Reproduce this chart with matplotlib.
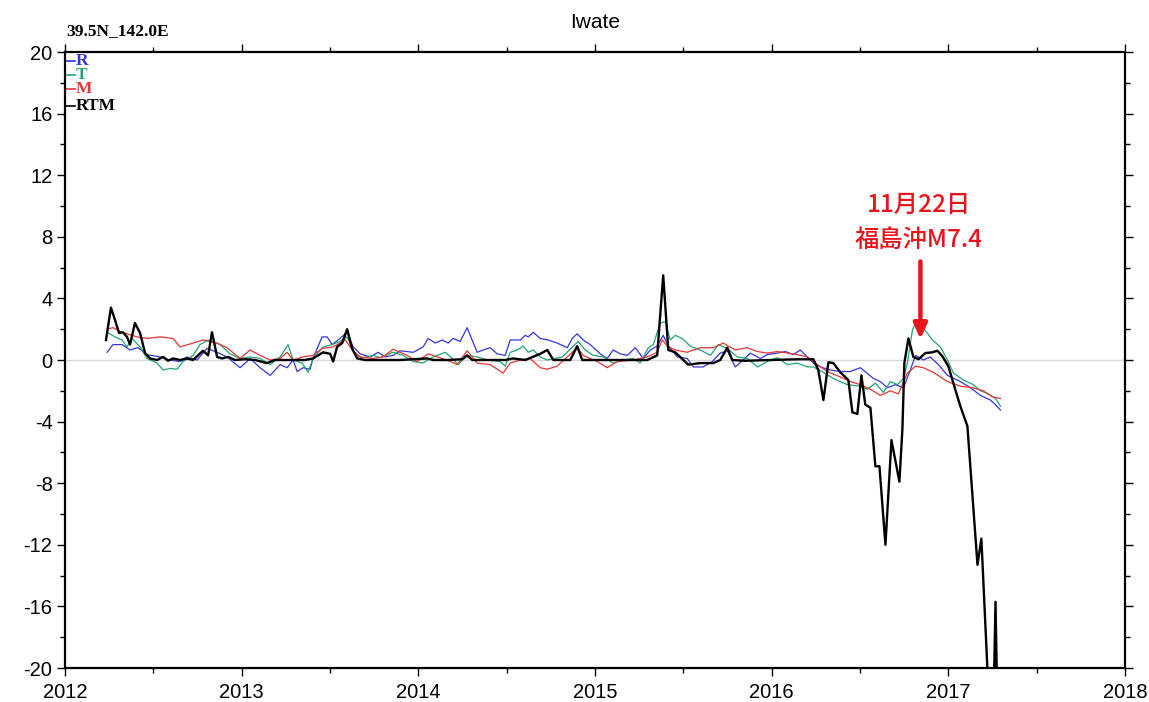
import matplotlib
matplotlib.use("Agg")
import matplotlib.pyplot as plt
from matplotlib.ticker import MultipleLocator

# ---------------- data (decimal years, values) ----------------
r_t = [2012.238, 2012.272, 2012.323, 2012.368, 2012.413, 2012.464, 2012.538, 2012.595, 2012.651, 2012.691,
       2012.748, 2012.804, 2012.861, 2012.917, 2012.991, 2013.048, 2013.104, 2013.161, 2013.218, 2013.257,
       2013.291, 2013.314, 2013.348, 2013.387, 2013.404, 2013.455, 2013.484, 2013.512, 2013.546, 2013.597,
       2013.631, 2013.671, 2013.727, 2013.773, 2013.812, 2013.857, 2013.897, 2013.971, 2014.027, 2014.056,
       2014.095, 2014.135, 2014.169, 2014.197, 2014.237, 2014.276, 2014.333, 2014.367, 2014.407, 2014.446,
       2014.492, 2014.520, 2014.577, 2014.605, 2014.622, 2014.650, 2014.690, 2014.735, 2014.786, 2014.843,
       2014.871, 2014.899, 2014.933, 2014.973, 2015.030, 2015.069, 2015.103, 2015.143, 2015.183, 2015.228,
       2015.273, 2015.313, 2015.352, 2015.386, 2015.415, 2015.466, 2015.522, 2015.556, 2015.613, 2015.664,
       2015.709, 2015.749, 2015.794, 2015.839, 2015.879, 2015.936, 2015.975, 2016.032, 2016.077, 2016.123,
       2016.162, 2016.202, 2016.236, 2016.276, 2016.332, 2016.389, 2016.445, 2016.502, 2016.576, 2016.615,
       2016.655, 2016.700, 2016.746, 2016.785, 2016.814, 2016.859, 2016.898, 2016.944, 2016.995, 2017.068,
       2017.125, 2017.182, 2017.238, 2017.267, 2017.295]
r_v = [0.5, 1.0, 1.0, 0.65, 0.8, 0.35, 0.2, 0.0, -0.1, 0.2,
       0.0, 0.75, 0.5, 0.2, -0.5, 0.1, -0.5, -1.0, -0.3, -0.5,
       0.0, -0.75, -0.5, -0.6, 0.1, 1.5, 1.5, 1.0, 1.3, 1.8,
       0.85, 0.4, 0.2, 0.5, 0.2, 0.3, 0.6, 0.5, 0.85, 1.4,
       1.1, 1.3, 1.1, 1.4, 1.2, 2.1, 0.5, 0.65, 0.8, 0.4,
       0.3, 1.3, 1.3, 1.6, 1.5, 1.8, 1.4, 1.3, 1.1, 0.8,
       1.4, 1.7, 1.3, 1.0, 0.4, 0.1, 0.65, 0.4, 0.3, 0.8,
       0.1, 0.65, 0.9, 1.6, 0.9, 0.2, 0.1, -0.45, -0.45, -0.1,
       0.45, 0.6, -0.45, 0.0, 0.45, 0.1, 0.35, 0.45, 0.55, 0.35,
       0.65, 0.2, -0.2, -0.45, -0.65, -0.75, -0.75, -0.5, -1.2, -1.4,
       -1.8, -1.6, -1.8, -0.65, 0.3, 0.0, 0.2, -0.3, -1.0, -1.4,
       -1.8, -2.3, -2.6, -2.9, -3.25]

t_t = [2012.238, 2012.283, 2012.323, 2012.351, 2012.379, 2012.425, 2012.464, 2012.521, 2012.555, 2012.595,
       2012.634, 2012.668, 2012.725, 2012.764, 2012.810, 2012.878, 2012.934, 2012.991, 2013.048, 2013.104,
       2013.161, 2013.218, 2013.263, 2013.291, 2013.342, 2013.376, 2013.404, 2013.461, 2013.512, 2013.557,
       2013.597, 2013.642, 2013.688, 2013.744, 2013.784, 2013.857, 2013.914, 2013.971, 2014.027, 2014.067,
       2014.107, 2014.152, 2014.192, 2014.226, 2014.276, 2014.333, 2014.390, 2014.463, 2014.492, 2014.520,
       2014.560, 2014.594, 2014.622, 2014.650, 2014.690, 2014.730, 2014.815, 2014.877, 2014.905, 2014.945,
       2014.990, 2015.047, 2015.103, 2015.160, 2015.217, 2015.256, 2015.302, 2015.330, 2015.369, 2015.398,
       2015.426, 2015.454, 2015.494, 2015.539, 2015.596, 2015.653, 2015.698, 2015.749, 2015.805, 2015.862,
       2015.919, 2015.975, 2016.032, 2016.089, 2016.145, 2016.202, 2016.236, 2016.293, 2016.349, 2016.428,
       2016.502, 2016.542, 2016.587, 2016.632, 2016.672, 2016.712, 2016.746, 2016.768, 2016.797, 2016.814,
       2016.842, 2016.881, 2016.910, 2016.955, 2016.995, 2017.029, 2017.085, 2017.142, 2017.182, 2017.227,
       2017.267, 2017.295]
t_v = [1.8, 1.5, 1.3, 0.85, 1.4, 0.85, 0.1, -0.2, -0.65, -0.55,
       -0.6, -0.1, 0.3, 1.0, 1.3, 1.0, 0.4, 0.1, 0.2, 0.1,
       -0.3, 0.2, 1.0, 0.0, -0.2, -0.8, 0.1, 0.85, 1.0, 1.2,
       1.5, 0.3, 0.15, 0.3, 0.15, 0.5, 0.3, -0.1, -0.2, 0.1,
       0.3, 0.5, 0.1, -0.3, 0.3, 0.2, 0.0, -0.1, -0.4, 0.5,
       0.65, 0.9, 0.5, 0.65, 0.2, 0.0, 0.2, 0.9, 1.2, 0.65,
       0.3, 0.2, -0.2, 0.0, 0.1, -0.2, 0.8, 1.0, 2.4, 2.5,
       1.3, 1.6, 1.4, 0.9, 0.65, 0.3, 1.0, 0.75, 0.2, 0.1,
       -0.45, -0.1, 0.15, -0.3, -0.2, -0.45, -0.45, -0.8, -1.2, -1.6,
       -1.7, -1.9, -1.5, -2.1, -1.4, -1.6, -1.2, -0.2, 1.95, 2.4,
       2.2, 1.75, 1.3, 0.85, 0.0, -0.85, -1.3, -1.6, -2.0, -2.2,
       -2.5, -3.0]

m_t = [2012.238, 2012.272, 2012.323, 2012.408, 2012.464, 2012.538, 2012.612, 2012.651, 2012.725, 2012.781,
       2012.861, 2012.917, 2012.991, 2013.048, 2013.104, 2013.161, 2013.218, 2013.257, 2013.291, 2013.348,
       2013.404, 2013.455, 2013.518, 2013.586, 2013.631, 2013.671, 2013.744, 2013.801, 2013.857, 2013.937,
       2013.993, 2014.056, 2014.107, 2014.163, 2014.220, 2014.276, 2014.333, 2014.407, 2014.480, 2014.520,
       2014.577, 2014.633, 2014.690, 2014.730, 2014.786, 2014.843, 2014.899, 2014.933, 2015.013, 2015.069,
       2015.126, 2015.217, 2015.296, 2015.352, 2015.381, 2015.409, 2015.454, 2015.522, 2015.596, 2015.670,
       2015.726, 2015.794, 2015.862, 2015.919, 2015.975, 2016.032, 2016.089, 2016.145, 2016.202, 2016.259,
       2016.315, 2016.389, 2016.445, 2016.502, 2016.559, 2016.615, 2016.672, 2016.717, 2016.768, 2016.814,
       2016.859, 2016.915, 2016.995, 2017.068, 2017.136, 2017.199, 2017.250, 2017.295]
m_v = [2.0, 2.1, 1.8, 1.5, 1.4, 1.5, 1.4, 0.85, 1.1, 1.3,
       1.1, 0.8, 0.1, 0.65, 0.3, 0.0, 0.1, 0.5, 0.0, 0.2,
       0.3, 0.75, 0.85, 1.3, 0.6, 0.2, 0.1, 0.2, 0.7, 0.3,
       -0.1, 0.4, 0.2, 0.0, -0.3, 0.6, -0.2, -0.3, -0.85, -0.2,
       0.0, 0.1, -0.5, -0.6, -0.4, 0.2, 0.8, 0.3, -0.1, -0.5,
       -0.1, 0.0, 0.2, 0.5, 1.3, 0.9, 0.65, 0.5, 0.8, 0.8,
       1.1, 0.65, 0.8, 0.55, 0.45, 0.55, 0.45, 0.35, 0.2, -0.3,
       -0.75, -1.1, -1.4, -1.6, -1.9, -2.3, -2.0, -2.2, -0.85, -0.4,
       -0.5, -0.8, -1.4, -1.7, -1.8, -2.0, -2.4, -2.5]

rtm_t = [2012.232, 2012.260, 2012.283, 2012.306, 2012.328, 2012.351, 2012.368, 2012.396, 2012.425, 2012.453,
         2012.481, 2012.521, 2012.555, 2012.583, 2012.612, 2012.651, 2012.691, 2012.725, 2012.753, 2012.781,
         2012.810, 2012.832, 2012.861, 2012.889, 2012.923, 2012.963, 2013.019, 2013.076, 2013.144, 2013.189,
         2013.274, 2013.359, 2013.404, 2013.433, 2013.461, 2013.501, 2013.518, 2013.540, 2013.569, 2013.597,
         2013.625, 2013.654, 2013.699, 2013.784, 2013.897, 2014.050, 2014.084, 2014.169, 2014.248, 2014.276,
         2014.305, 2014.407, 2014.492, 2014.537, 2014.605, 2014.690, 2014.730, 2014.764, 2014.860, 2014.899,
         2014.928, 2015.030, 2015.143, 2015.296, 2015.352, 2015.386, 2015.415, 2015.454, 2015.500, 2015.528,
         2015.596, 2015.670, 2015.709, 2015.749, 2015.777, 2015.851, 2015.992, 2016.162, 2016.236, 2016.264,
         2016.293, 2016.321, 2016.349, 2016.389, 2016.434, 2016.457, 2016.485, 2016.508, 2016.530, 2016.559,
         2016.587, 2016.610, 2016.644, 2016.678, 2016.723, 2016.740, 2016.751, 2016.774, 2016.802, 2016.831,
         2016.870, 2016.910, 2016.938, 2016.966, 2017.000, 2017.040, 2017.068, 2017.108, 2017.165, 2017.187,
         2017.221, 2017.238, 2017.255, 2017.267, 2017.278]
rtm_v = [1.3, 3.4, 2.6, 1.75, 1.8, 1.5, 1.0, 2.4, 1.75, 0.45,
         0.1, 0.0, 0.2, -0.05, 0.1, 0.0, 0.1, 0.0, 0.3, 0.6,
         0.3, 1.8, 0.2, 0.1, 0.2, 0.0, 0.05, 0.0, -0.2, 0.0,
         0.0, 0.0, 0.1, 0.3, 0.5, 0.4, -0.1, 0.85, 1.1, 2.0,
         0.75, 0.1, 0.0, 0.0, 0.0, 0.1, 0.0, 0.0, 0.05, 0.3,
         0.0, 0.0, 0.0, 0.1, 0.0, 0.4, 0.65, 0.0, 0.0, 0.9,
         0.0, 0.0, 0.0, 0.0, 0.3, 5.5, 0.65, 0.5, 0.0, -0.3,
         -0.2, -0.2, 0.0, 0.8, 0.0, -0.05, 0.0, 0.05, 0.05, -0.65,
         -2.6, -0.15, -0.2, -0.8, -1.3, -3.4, -3.5, -1.0, -2.9, -3.1,
         -6.9, -6.9, -12.0, -5.2, -7.9, -4.5, -0.2, 1.4, 0.2, 0.05,
         0.45, 0.5, 0.6, 0.25, -0.4, -1.95, -3.0, -4.3, -13.3, -11.6,
         -20.0, -23.0, -23.0, -15.7, -23.0]

legend_labels = ["R", "T", "M", "RTM"]
legend_values = [19.4, 18.5, 17.6, 16.5]
colors = ["#3535e0", "#22a575", "#e83535", "#000000"]

x_ticks = [2012, 2013, 2014, 2015, 2016, 2017, 2018]
y_ticks = [20, 16, 12, 8, 4, 0, -4, -8, -12, -16, -20]

quake_year = 2016.842
quake_line1 = "11月22日"
quake_line2 = "福島沖M7.4"
title = "Iwate"
location = "39.5N_142.0E"

# ---------------- figure ----------------
plt.rcParams['font.family'] = ['Liberation Sans', 'DejaVu Sans']
fig = plt.figure(figsize=(11.49, 7.02), dpi=100)
ax = fig.add_axes([65/1149, 1 - 668/702, (1125-65)/1149, (668-52)/702])

ax.axhline(0, color="#d8d8d8", lw=1.0, zorder=1)
ax.plot(r_t, r_v, color=colors[0], lw=0.9, zorder=2)
ax.plot(t_t, t_v, color=colors[1], lw=0.9, zorder=2)
ax.plot(m_t, m_v, color=colors[2], lw=0.9, zorder=2)
ax.plot(rtm_t, rtm_v, color=colors[3], lw=1.7, zorder=3)

ax.set_xlim(2012, 2018)
ax.set_ylim(-20, 20)
ax.set_xticks(x_ticks)
ax.set_xticklabels([str(x) for x in x_ticks])
ax.set_yticks(y_ticks)
ax.set_yticklabels([str(y) for y in y_ticks])
ax.xaxis.set_minor_locator(MultipleLocator(0.5))
ax.yaxis.set_minor_locator(MultipleLocator(2))
ax.tick_params(which='both', direction='out', top=True, right=True, labelsize=14.5, width=1.0)
ax.tick_params(which='major', length=6)
ax.tick_params(which='minor', length=3.5)
ax.tick_params(axis='x', pad=5)
ax.tick_params(axis='y', pad=3)
for s in ax.spines.values():
    s.set_linewidth(1.6)

ax.set_title(title, fontsize=15, pad=17)
fig.text(66/1149, 1 - 35/702, location, fontsize=12.5, fontweight='bold',
         family=['Liberation Serif', 'DejaVu Serif'], ha='left', va='baseline')

# legend: little tick marks plus bold serif labels
for lab, val, col in zip(legend_labels, legend_values, colors):
    ax.plot([2012.0, 2012.055], [val, val], color=col, lw=1.2, clip_on=False)
    ax.text(2012.062, val, lab, color=col, fontsize=12.5, fontweight='bold',
            family=['Liberation Serif', 'DejaVu Serif'], ha='left', va='center')

# annotation
ax.annotate("", xy=(quake_year, 1.35), xytext=(quake_year, 6.4),
            arrowprops=dict(arrowstyle="-|>,head_width=0.4,head_length=0.9",
                            color="#e8141c", lw=3.2, shrinkA=0, shrinkB=0))
ax.text(quake_year - 0.01, 10.06, quake_line1, color="#e8141c", fontsize=17.5, fontweight='medium',
        family=['Noto Sans CJK JP', 'DejaVu Sans'], ha='center', va='center')
ax.text(quake_year - 0.01, 7.8, quake_line2, color="#e8141c", fontsize=17.5, fontweight='medium',
        family=['Noto Sans CJK JP', 'DejaVu Sans'], ha='center', va='center')

fig.savefig("out.png", dpi=100)
